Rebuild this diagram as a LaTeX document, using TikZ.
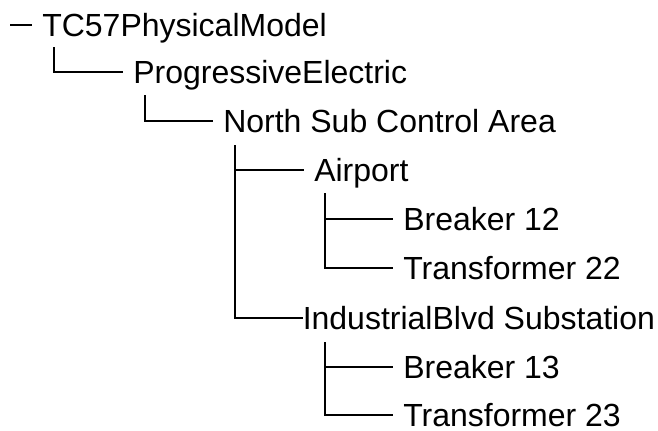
\documentclass[tikz,border=0pt]{standalone}
\usepackage{fontspec}
\setmainfont{Liberation Sans}
\tikzset{
  item/.style={anchor=west, inner xsep=7.5pt, inner ysep=0pt, text height=17.2pt, text depth=0pt, font=\fontsize{24}{28}\selectfont},
  branch/.style={line width=1.4pt}
}
\begin{document}
\begin{tikzpicture}[x=0.75pt, y=-0.75pt]
\useasboundingbox (0,0) rectangle (658,430);
\node[item] (root) at (32,25) {TC57PhysicalModel};
\node[item] (pe) at (123,72) {ProgressiveElectric};
\node[item] (nsca) at (213,121) {North Sub Control Area};
\node[item] (airport) at (304,170) {Airport};
\node[item] (brk12) at (393,219) {Breaker 12};
\node[item] (tr22) at (393,268) {Transformer 22};
\node[item, inner xsep=0pt] (indblvd) at (302.5,318) {IndustrialBlvd Substation};
\node[item] (brk13) at (393,367) {Breaker 13};
\node[item] (tr23) at (393,415) {Transformer 23};
\coordinate (rootstub) at (10,25);
\coordinate (roottop) at (54,47);
\coordinate (petop) at (145,95);
\coordinate (nscatop) at (235,145);
\coordinate (airporttop) at (325,193);
\coordinate (indblvdtop) at (325,342);
\draw[branch] (rootstub) -- (root.west);
\draw[branch] (roottop) |- (pe.west);
\draw[branch] (petop) |- (nsca.west);
\draw[branch] (nscatop) |- (airport.west);
\draw[branch] (nscatop) |- (indblvd.west);
\draw[branch] (airporttop) |- (brk12.west);
\draw[branch] (airporttop) |- (tr22.west);
\draw[branch] (indblvdtop) |- (brk13.west);
\draw[branch] (indblvdtop) |- (tr23.west);
\end{tikzpicture}
\end{document}
